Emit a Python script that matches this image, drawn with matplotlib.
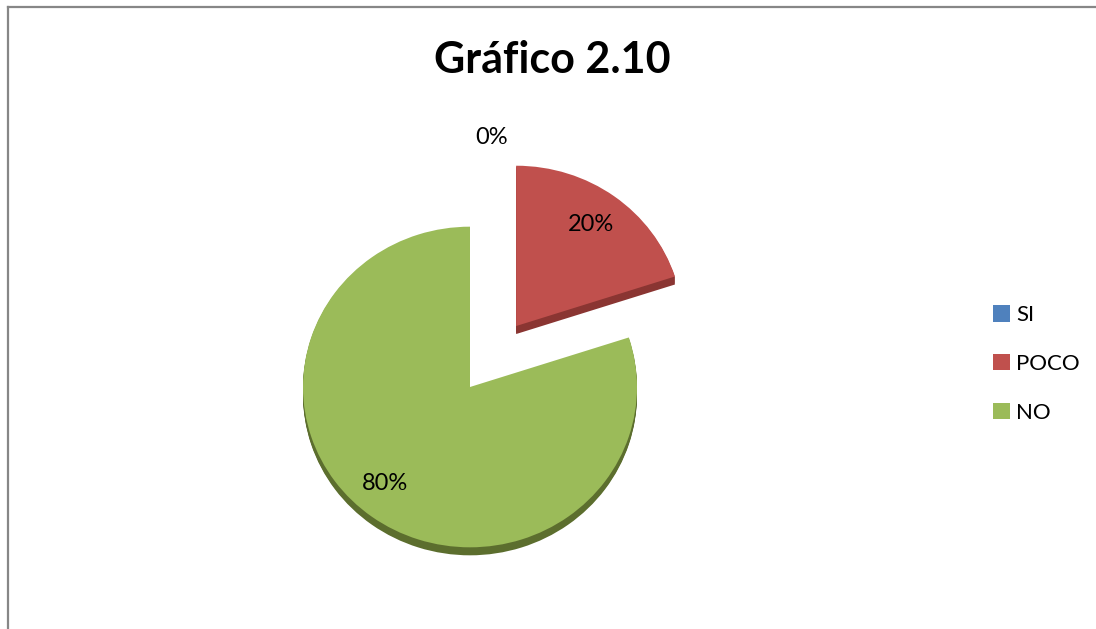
import matplotlib
matplotlib.use("Agg")
import matplotlib.pyplot as plt
from matplotlib.patches import Patch
from matplotlib.lines import Line2D

# Survey answers for chart 2.10
categories = ["SI", "POCO", "NO"]
percentages = [0, 20, 80]
colors = ["#4F81BD", "#C0504D", "#9BBB59"]
side_colors = ["#34567F", "#8A3532", "#5C6E2E"]
explode = [0.0, 0.47, 0.0]     # as a fraction of the radius
title = "Gráfico 2.10"

W, H, DPI = 1096, 629, 100
SQUASH = 0.96          # slight vertical flattening of the tilted pie
DEPTH = 8              # thickness of the pie edge, pixels
CX, CY, R = 470, 387, 167

fig = plt.figure(figsize=(W / DPI, H / DPI), dpi=DPI)
ax = fig.add_axes([0, 0, 1, 1])


def py(y):
    """Pixel row (from top) to data y."""
    return (H - y) / SQUASH


offsets = [e * R for e in explode]

# Side walls: stacked copies shifted downward
for d in range(DEPTH, 0, -1):
    ax.pie(percentages, colors=side_colors, explode=offsets, startangle=90,
           counterclock=False, radius=R, center=(CX, py(CY + d)),
           frame=True, wedgeprops=dict(linewidth=0))

# Top surface
wedges, _ = ax.pie(percentages, colors=colors, explode=offsets, startangle=90,
                   counterclock=False, radius=R, center=(CX, py(CY)),
                   frame=True, wedgeprops=dict(linewidth=0))
ax.set_xlim(0, W)
ax.set_ylim(0, H / SQUASH)
ax.set_aspect("auto")
ax.axis("off")

# Percentage labels
label_pos = [(492, 137), (591, 224), (385, 484)]
for v, (x, y) in zip(percentages, label_pos):
    ax.text(x, py(y), f"{v:.0f}%", ha="center", va="center",
            fontsize=17, family=["Lato", "DejaVu Sans"], color="black")

fig.text(552 / W, 1 - 60 / H, title, ha="center", va="center",
         fontsize=31, fontweight="bold", family=["Lato", "DejaVu Sans"])

handles = [Patch(facecolor=c, edgecolor="none") for c in colors]
fig.legend(handles, categories, loc="center left",
           bbox_to_anchor=(973 / W, 1 - 364 / H), frameon=False,
           prop=dict(family=["Lato", "DejaVu Sans"], size=16),
           handlelength=0.75, handleheight=0.75, handletextpad=0.3,
           labelspacing=1.3)

# Chart frame
fig.add_artist(Line2D([8 / W, 8 / W], [0, 1 - 7 / H], transform=fig.transFigure,
                      color="#878787", linewidth=1.6))
fig.add_artist(Line2D([8 / W, 1], [1 - 7 / H, 1 - 7 / H], transform=fig.transFigure,
                      color="#878787", linewidth=1.6))

fig.savefig("out.png", dpi=DPI, facecolor="white")
